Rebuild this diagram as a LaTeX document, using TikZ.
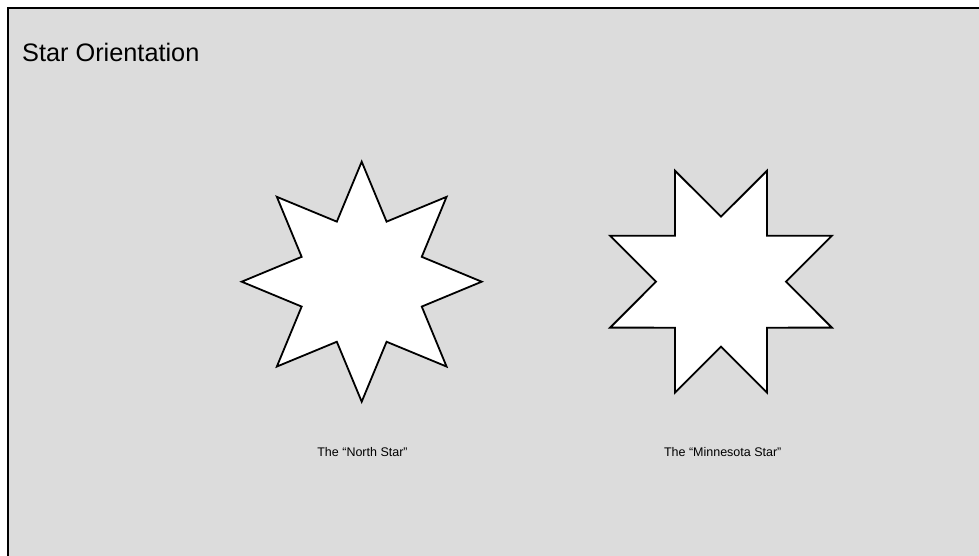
\documentclass[tikz,border=0pt]{standalone}
\usepackage{fontspec}
\setmainfont{Liberation Sans}
\definecolor{bg}{RGB}{220,220,220}
\begin{document}
\begin{tikzpicture}[x=1pt,y=-1pt,
  star/.style={draw=black, fill=white, line width=1.8pt, line join=miter},
  lbl/.style={anchor=base, inner sep=0pt, font=\fontsize{12.5}{15}\selectfont},
  frame/.style={line width=2.2pt}]
\useasboundingbox (0,0) rectangle (979,556);
\fill[bg] (8,8) rectangle (979,556);
\draw[frame] (8,556) -- (8,8) -- (979,8);
\node[anchor=base west, inner sep=0pt, font=\fontsize{25.3}{30}\selectfont] (title) at (22,62) {Star Orientation};
% North Star
\draw[star, shift={(361.7,281.7)}]
  (90:120) -- (112.5:65) -- (135:120) -- (157.5:65) -- (180:120) -- (202.5:65)
  -- (225:120) -- (247.5:65) -- (270:120) -- (292.5:65) -- (315:120) -- (337.5:65)
  -- (0:120) -- (22.5:65) -- (45:120) -- (67.5:65) -- cycle;
% Minnesota Star
\draw[star, shift={(721,281.7)}]
  (112.5:120) -- (90:65) -- (67.5:120) -- (45:65) -- (22.5:120) -- (0:65)
  -- (-22.5:120) -- (-45:65) -- (-67.5:120) -- (-90:65) -- (-112.5:120) -- (-135:65)
  -- (-157.5:120) -- (180:65) -- (157.5:120) -- (135:65) -- cycle;
\node[lbl] (north) at (362.5,456.7) {The “North Star”};
\node[lbl] (minn) at (722.7,456.7) {The “Minnesota Star”};
\end{tikzpicture}
\end{document}
